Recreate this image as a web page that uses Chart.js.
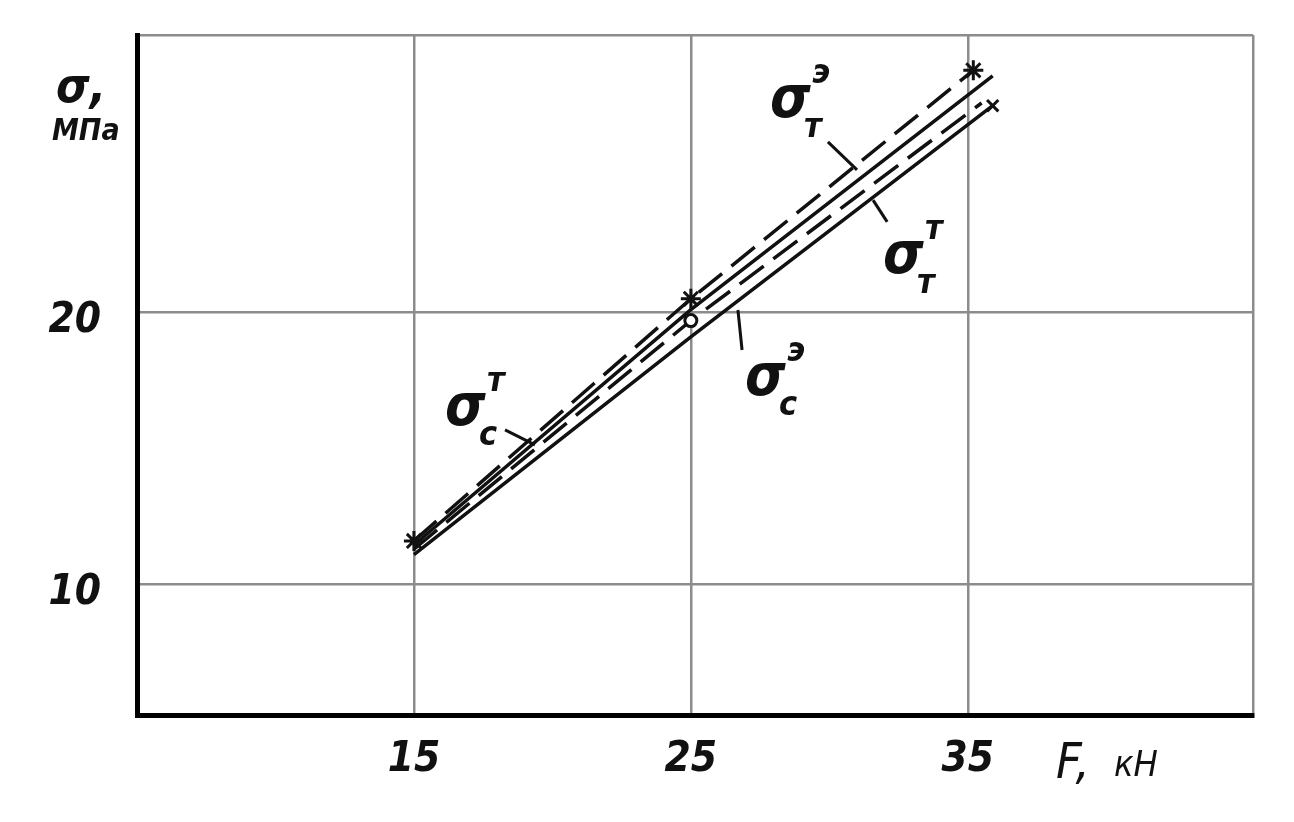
<!DOCTYPE html>
<html lang="ru">
<head>
    <meta charset="UTF-8">
    <title>σ – F</title>
    <script src="https://cdn.jsdelivr.net/npm/chart.js"></script>
    <style>
        html, body {
            margin: 0;
            padding: 0;
            background: #fff;
        }
        #wrap {
            width: 1294px;
            height: 822px;
        }
    </style>
</head>
<body>
    <div id="wrap"><canvas id="chart"></canvas></div>

    <script>
        // axis ticks
        const xTicks = [15, 25, 35, 45.3];
        const yTicks = [10, 20, 30.2];
        const xLabels = [15, 25, 35];
        const yLabels = [10, 20];

        // σт(э) – dashed, upper
        const tEF = [15, 25, 35.2];
        const tES = [11.6, 20.5, 28.9];
        // σc(т) – solid, upper
        const cTF = [15, 25, 35.9];
        const cTS = [11.45, 20.1, 28.7];
        // σc(э) – dashed, middle
        const cEF = [15, 25, 35.5];
        const cES = [11.3, 19.7, 27.7];
        // σт(т) – solid, lower
        const tTF = [15, 25, 35.9];
        const tTS = [11.1, 19.1, 27.6];

        // curve labels: [F, σ, sub, sup]
        const curveLabels = [
            [27.86, 27.19, 'т', 'э'],
            [31.94, 21.45, 'т', 'т'],
            [26.96, 16.96, 'c', 'э'],
            [16.12, 15.86, 'c', 'т']
        ];
        // leader lines: [F1, σ1, F2, σ2]
        const leaders = [
            [29.95, 26.27, 31.0, 25.24],
            [31.58, 24.13, 32.09, 23.33],
            [26.70, 20.09, 26.85, 18.62],
            [18.29, 15.68, 19.37, 15.13]
        ];

        const pts = (xs, ys) => xs.map((x, i) => ({ x: x, y: ys[i] }));
        const hand = "'DejaVu Sans Condensed', 'DejaVu Sans', sans-serif";

        function drawSigma(ctx, x, y, sub, sup) {
            ctx.font = "italic bold 58px " + hand;
            ctx.textAlign = "left";
            ctx.textBaseline = "alphabetic";
            ctx.fillText("σ", x, y);
            ctx.font = "italic bold 34px " + hand;
            ctx.fillText(sup, x + 42, y - 34);
            ctx.fillText(sub, x + 34, y + 20);
        }

        const labelPlugin = {
            id: 'handLabels',
            afterDraw(chart) {
                const ctx = chart.ctx;
                const xs = chart.scales.x, ys = chart.scales.y;
                ctx.save();
                ctx.fillStyle = '#111';
                ctx.strokeStyle = '#111';
                ctx.lineWidth = 3;

                leaders.forEach(l => {
                    ctx.beginPath();
                    ctx.moveTo(xs.getPixelForValue(l[0]), ys.getPixelForValue(l[1]));
                    ctx.lineTo(xs.getPixelForValue(l[2]), ys.getPixelForValue(l[3]));
                    ctx.stroke();
                });

                curveLabels.forEach(c => {
                    drawSigma(ctx, xs.getPixelForValue(c[0]), ys.getPixelForValue(c[1]), c[2], c[3]);
                });

                // axis titles
                ctx.textAlign = "left";
                ctx.textBaseline = "alphabetic";
                ctx.font = "italic bold 48px " + hand;
                ctx.fillText("σ,", 56, 102);
                ctx.font = "italic bold 30px " + hand;
                ctx.fillText("МПа", 52, 140);
                ctx.font = "italic 50px " + hand;
                ctx.fillText("F,", 1056, 778);
                ctx.font = "italic 36px " + hand;
                ctx.fillText("кН", 1114, 776);
                ctx.restore();
            }
        };

        const lineStyle = {
            showLine: true,
            borderColor: '#111',
            backgroundColor: '#fff',
            borderWidth: 3.5,
            pointRadius: 0,
            fill: false
        };

        new Chart(document.getElementById('chart'), {
            type: 'scatter',
            data: {
                datasets: [
                    Object.assign({}, lineStyle, {
                        label: 'σт э',
                        data: pts(tEF, tES),
                        borderDash: [30, 12],
                        pointStyle: 'star',
                        pointRadius: 10,
                        pointBorderWidth: 3,
                        pointBorderColor: '#111'
                    }),
                    Object.assign({}, lineStyle, {
                        label: 'σc т',
                        data: pts(cTF, cTS)
                    }),
                    Object.assign({}, lineStyle, {
                        label: 'σc э',
                        data: pts(cEF, cES),
                        borderDash: [30, 12],
                        pointStyle: 'circle',
                        pointRadius: [0, 6, 0],
                        pointBorderWidth: 3,
                        pointBorderColor: '#111'
                    }),
                    Object.assign({}, lineStyle, {
                        label: 'σт т',
                        data: pts(tTF, tTS),
                        pointStyle: 'crossRot',
                        pointRadius: [0, 0, 8],
                        pointBorderWidth: 3,
                        pointBorderColor: '#111'
                    })
                ]
            },
            options: {
                responsive: true,
                maintainAspectRatio: false,
                animation: false,
                layout: { padding: { top: 35, right: 41, left: 0, bottom: 0 } },
                plugins: {
                    legend: { display: false },
                    tooltip: { enabled: false }
                },
                scales: {
                    x: {
                        type: 'linear',
                        min: 5,
                        max: 45.3,
                        afterBuildTicks: s => { s.ticks = xTicks.map(v => ({ value: v })); },
                        afterFit: s => { s.height = 107; s.paddingLeft = 0; s.paddingRight = 0; },
                        grid: { color: '#8c8c8c', lineWidth: 2.5, drawTicks: false },
                        border: { color: '#000', width: 5 },
                        ticks: {
                            padding: 20,
                            color: '#111',
                            font: { family: hand, size: 42, style: 'italic', weight: 'bold' },
                            callback: v => xLabels.includes(v) ? String(v) : ''
                        }
                    },
                    y: {
                        type: 'linear',
                        min: 5.2,
                        max: 30.2,
                        afterBuildTicks: s => { s.ticks = yTicks.map(v => ({ value: v })); },
                        afterFit: s => { s.width = 137; s.paddingTop = 0; s.paddingBottom = 0; },
                        grid: { color: '#8c8c8c', lineWidth: 2.5, drawTicks: false },
                        border: { color: '#000', width: 5 },
                        ticks: {
                            padding: 36,
                            labelOffset: 9,
                            color: '#111',
                            font: { family: hand, size: 42, style: 'italic', weight: 'bold' },
                            callback: v => yLabels.includes(v) ? String(v) : ''
                        }
                    }
                }
            },
            plugins: [labelPlugin]
        });
    </script>
</body>
</html>
